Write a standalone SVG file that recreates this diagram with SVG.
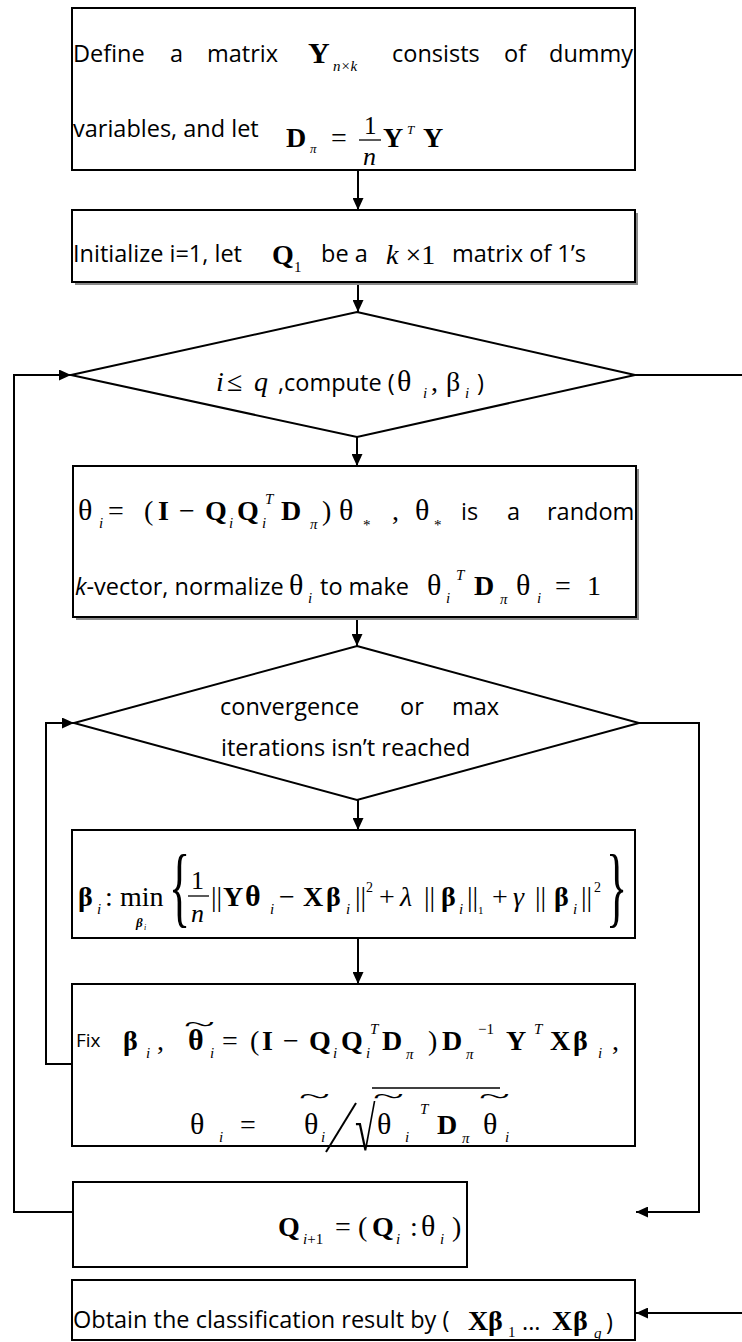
<svg xmlns="http://www.w3.org/2000/svg" width="742" height="1342" viewBox="0 0 742 1342">
  <defs>
    <marker id="arrow" markerUnits="userSpaceOnUse" markerWidth="13" markerHeight="11" refX="12" refY="5.5" orient="auto">
      <path d="M0,0 L12,5.5 L0,11 z" fill="#000"/>
    </marker>
  </defs>
  <style>
    .box{fill:#fff;stroke:#000;stroke-width:2}
    .sh{fill:#8a8a8a}
    .con{fill:none;stroke:#000;stroke-width:2}
    .bar{stroke:#000;stroke-width:1.3}
    .t{font-family:"Open Sans","Liberation Sans",sans-serif;font-size:23.5px;fill:#000}
    .m{font-family:"Liberation Serif","Times New Roman",serif;font-size:28px;fill:#000}
    .g{font-size:30px}
    .b{font-weight:700}
    .i{font-style:italic}
    .s{font-size:15px}
  </style>
  <rect width="742" height="1342" fill="#fff"/>

  <!-- connectors -->
  <g id="connectors">
    <path class="con" d="M358,170 V210" marker-end="url(#arrow)"/>
    <path class="con" d="M358,282 V312" marker-end="url(#arrow)"/>
    <path class="con" d="M357,437 V466" marker-end="url(#arrow)"/>
    <path class="con" d="M357,617 V646" marker-end="url(#arrow)"/>
    <path class="con" d="M358,800 V830" marker-end="url(#arrow)"/>
    <path class="con" d="M358,938 V984" marker-end="url(#arrow)"/>
    <path class="con" d="M73,1212 H14 V375 H71" marker-end="url(#arrow)"/>
    <path class="con" d="M635,375 H742"/>
    <path class="con" d="M72,1064 H46 V723 H74" marker-end="url(#arrow)"/>
    <path class="con" d="M639,723 H699 V1212 H636" marker-end="url(#arrow)"/>
    <path class="con" d="M742,1313 H636" marker-end="url(#arrow)"/>
  </g>

  <!-- define Y and D_pi -->
  <g id="define-y">
    <rect class="box" x="72" y="8" width="563" height="162"/>
    <text class="t" y="62"><tspan x="73">Define</tspan><tspan x="170">a</tspan><tspan x="207">matrix</tspan><tspan x="392">consists</tspan><tspan x="504">of</tspan><tspan x="549">dummy</tspan></text>
    <text class="m b" x="308" y="63" style="font-size:30px">Y</text>
    <text class="m i s" x="333" y="71">n×k</text>
    <text class="t" x="73" y="137">variables, and let</text>
    <text class="m b" x="286" y="147">D</text>
    <text class="m i" x="310" y="153" style="font-size:13px">π</text>
    <text class="m" x="331" y="147">=</text>
    <text class="m" x="364" y="134" style="font-size:25px">1</text>
    <line class="bar" x1="359" y1="140" x2="381" y2="140"/>
    <text class="m i" x="363" y="165" style="font-size:26px">n</text>
    <text class="m b" x="383" y="147">Y</text>
    <text class="m i" x="407" y="134" style="font-size:13px">T</text>
    <text class="m b" x="423" y="147">Y</text>
  </g>

  <!-- initialise Q_1 -->
  <g id="init-q">
    <rect class="sh" x="75" y="213" width="563" height="72"/>
    <rect class="box" x="72" y="210" width="563" height="72"/>
    <text class="t" y="262"><tspan x="73">Initialize i=1, let</tspan><tspan x="321">be a</tspan><tspan x="452">matrix of 1’s</tspan></text>
    <text class="m b" x="272" y="264">Q</text>
    <text class="m s" x="294" y="272">1</text>
    <text class="m" x="386" y="264"><tspan class="i">k</tspan> ×1</text>
  </g>

  <!-- outer loop test -->
  <g id="cond-q">
    <polygon class="box" points="357,312 635,375 357,437 71,375"/>
    <text class="m i" x="216" y="391">i</text>
    <text class="m" x="227" y="391">≤</text>
    <text class="m i" x="254" y="391">q</text>
    <text class="t" x="278" y="391">,compute (</text>
    <text class="m g" x="397" y="391">θ</text>
    <text class="m i s" x="423" y="398">i</text>
    <text class="m" x="431" y="391">,</text>
    <text class="m" x="446" y="391">β</text>
    <text class="m i s" x="465" y="398">i</text>
    <text class="t" x="477" y="391">)</text>
  </g>

  <!-- initial theta -->
  <g id="theta-init">
    <rect class="sh" x="76" y="469" width="563" height="151"/>
    <rect class="box" x="73" y="466" width="563" height="151"/>
    <text class="m g" x="78" y="520">θ</text>
    <text class="m i s" x="99" y="528">i</text>
    <text class="m" x="108" y="520">=</text>
    <text class="m" x="144" y="520">(</text>
    <text class="m b" x="158" y="520">I</text>
    <text class="m" x="179" y="520">−</text>
    <text class="m b" x="205" y="520">Q</text>
    <text class="m i s" x="229" y="528">i</text>
    <text class="m b" x="237" y="520">Q</text>
    <text class="m i s" x="265" y="504">T</text>
    <text class="m i s" x="262" y="528">i</text>
    <text class="m b" x="281" y="520">D</text>
    <text class="m i s" x="310" y="529">π</text>
    <text class="m" x="322" y="520">)</text>
    <text class="m g" x="339" y="520">θ</text>
    <text class="m s" x="363" y="530">*</text>
    <text class="m" x="392" y="520">,</text>
    <text class="m g" x="415" y="520">θ</text>
    <text class="m s" x="434" y="530">*</text>
    <text class="t" y="520"><tspan x="461">is</tspan><tspan x="507">a</tspan><tspan x="547">random</tspan></text>
    <text class="t" x="75" y="595"><tspan class="i">k</tspan>-vector, normalize</text>
    <text class="m g" x="289" y="595">θ</text>
    <text class="m i s" x="308" y="603">i</text>
    <text class="t" x="320" y="595">to make</text>
    <text class="m g" x="427" y="595">θ</text>
    <text class="m i s" x="446" y="603">i</text>
    <text class="m i s" x="456" y="580">T</text>
    <text class="m b" x="474" y="595">D</text>
    <text class="m i s" x="500" y="604">π</text>
    <text class="m g" x="516" y="595">θ</text>
    <text class="m i s" x="537" y="603">i</text>
    <text class="m" x="555" y="595">=</text>
    <text class="m" x="587" y="595">1</text>
  </g>

  <!-- inner loop test -->
  <g id="cond-conv">
    <polygon class="box" points="357,646 639,723 357,800 74,723"/>
    <text class="t" y="715"><tspan x="220">convergence</tspan><tspan x="400">or</tspan><tspan x="452">max</tspan></text>
    <text class="t" x="221" y="756">iterations isn’t reached</text>
  </g>

  <!-- beta step -->
  <g id="beta-step">
    <rect class="box" x="72" y="830" width="563" height="108"/>
    <text class="m b" x="78" y="906">β</text>
    <text class="m i s" x="97" y="914">i</text>
    <text class="m" x="105" y="906">:</text>
    <text class="m" x="120" y="906">min</text>
    <text class="m b i" x="136" y="927" style="font-size:13px">β</text>
    <text class="m i" x="144" y="930" style="font-size:8px">i</text>
    <text class="m" style="font-size:88px" transform="translate(169 916) scale(0.5 1)">{</text>
    <text class="m" x="191" y="889" style="font-size:26px">1</text>
    <line class="bar" x1="188" y1="896" x2="209" y2="896"/>
    <text class="m i" x="191" y="922" style="font-size:26px">n</text>
    <text class="m" x="211" y="906">||</text>
    <text class="m b" x="223" y="906">Y</text>
    <text class="m b g" x="245" y="906">θ</text>
    <text class="m i s" x="270" y="914">i</text>
    <text class="m" x="279" y="906">−</text>
    <text class="m b" x="303" y="906">X</text>
    <text class="m b" x="326" y="906">β</text>
    <text class="m i s" x="346" y="914">i</text>
    <text class="m" x="355" y="906">||</text>
    <text class="m" x="366" y="892" style="font-size:14px">2</text>
    <text class="m" x="379" y="906">+</text>
    <text class="m i" x="400" y="906">λ</text>
    <text class="m" x="424" y="906">||</text>
    <text class="m b" x="441" y="906">β</text>
    <text class="m i s" x="459" y="914">i</text>
    <text class="m" x="467" y="906">||</text>
    <text class="m" x="478" y="914" style="font-size:11px">1</text>
    <text class="m" x="492" y="906">+</text>
    <text class="m i" x="513" y="906">γ</text>
    <text class="m" x="535" y="906">||</text>
    <text class="m b" x="554" y="906">β</text>
    <text class="m i s" x="573" y="914">i</text>
    <text class="m" x="581" y="906">||</text>
    <text class="m" x="594" y="892" style="font-size:14px">2</text>
    <text class="m" style="font-size:88px" transform="translate(606 916) scale(0.5 1)">}</text>
  </g>

  <!-- theta update -->
  <g id="theta-update">
    <rect class="box" x="72" y="984" width="563" height="162"/>
    <text class="t" x="76" y="1047" style="font-size:19px">Fix</text>
    <text class="m b" x="123" y="1050">β</text>
    <text class="m i s" x="146" y="1058">i</text>
    <text class="m" x="157" y="1050">,</text>
    <text class="m b g" x="188" y="1050">θ</text>
    <text class="m" style="font-size:30px" transform="translate(184 1032) scale(1.9 0.8)">~</text>
    <text class="m i s" x="210" y="1058">i</text>
    <text class="m" x="222" y="1050">=</text>
    <text class="m" x="250" y="1050">(</text>
    <text class="m b" x="262" y="1050">I</text>
    <text class="m" x="283" y="1050">−</text>
    <text class="m b" x="309" y="1050">Q</text>
    <text class="m i s" x="333" y="1058">i</text>
    <text class="m b" x="341" y="1050">Q</text>
    <text class="m i s" x="370" y="1034">T</text>
    <text class="m i s" x="366" y="1058">i</text>
    <text class="m b" x="382" y="1050">D</text>
    <text class="m i s" x="406" y="1059">π</text>
    <text class="m" x="428" y="1050">)</text>
    <text class="m b" x="442" y="1050">D</text>
    <text class="m i s" x="466" y="1059">π</text>
    <text class="m s" x="478" y="1034">−1</text>
    <text class="m b" x="506" y="1050">Y</text>
    <text class="m i s" x="534" y="1034">T</text>
    <text class="m b" x="550" y="1050">X</text>
    <text class="m b" x="573" y="1050">β</text>
    <text class="m i s" x="598" y="1058">i</text>
    <text class="m" x="612" y="1050">,</text>

    <text class="m g" x="190" y="1134">θ</text>
    <text class="m i s" x="219" y="1142">i</text>
    <text class="m" x="240" y="1134">=</text>
    <text class="m g" x="304" y="1134">θ</text>
    <text class="m" style="font-size:30px" transform="translate(299 1104) scale(1.9 0.8)">~</text>
    <text class="m i s" x="321" y="1142">i</text>
    <line class="con" x1="326" y1="1152" x2="356" y2="1103"/>
    <text class="m" style="font-size:62px" transform="translate(355 1150) scale(0.6 1)">√</text>
    <line class="bar" x1="372" y1="1088" x2="500" y2="1088"/>
    <text class="m g" x="377" y="1134">θ</text>
    <text class="m" style="font-size:30px" transform="translate(373 1104) scale(1.9 0.8)">~</text>
    <text class="m i s" x="405" y="1142">i</text>
    <text class="m i s" x="420" y="1114">T</text>
    <text class="m b" x="437" y="1134">D</text>
    <text class="m i s" x="462" y="1143">π</text>
    <text class="m g" x="483" y="1134">θ</text>
    <text class="m" style="font-size:30px" transform="translate(479 1104) scale(1.9 0.8)">~</text>
    <text class="m i s" x="505" y="1142">i</text>
  </g>

  <!-- Q update -->
  <g id="q-update">
    <rect class="box" x="73" y="1182" width="394" height="85"/>
    <text class="m b" x="278" y="1236">Q</text>
    <text class="m s" x="303" y="1244"><tspan class="i">i</tspan>+1</text>
    <text class="m" x="335" y="1236">=</text>
    <text class="m" x="358" y="1236">(</text>
    <text class="m b" x="372" y="1236">Q</text>
    <text class="m i s" x="396" y="1244">i</text>
    <text class="m" x="410" y="1236">:</text>
    <text class="m g" x="421" y="1236">θ</text>
    <text class="m i s" x="440" y="1244">i</text>
    <text class="m" x="452" y="1236">)</text>
  </g>

  <!-- classification result -->
  <g id="result">
    <rect class="box" x="72" y="1280" width="563" height="60"/>
    <text class="t" x="73" y="1328">Obtain the classification result by (</text>
    <text class="m b" x="468" y="1330">X</text>
    <text class="m b" x="488" y="1330">β</text>
    <text class="m s" x="508" y="1337">1</text>
    <text class="t" x="522" y="1330">...</text>
    <text class="m b" x="552" y="1330">X</text>
    <text class="m b" x="573" y="1330">β</text>
    <text class="m i s" x="594" y="1338">q</text>
    <text class="t" x="606" y="1330">)</text>
  </g>
</svg>
